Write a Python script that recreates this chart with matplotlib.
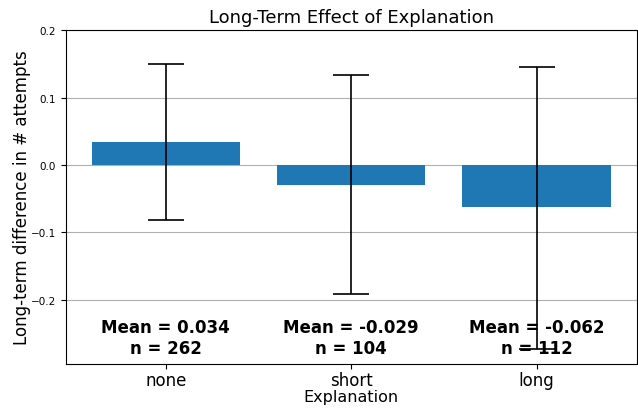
import matplotlib
matplotlib.use("Agg")
import matplotlib.pyplot as plt
import numpy as np

categories = ["none", "short", "long"]
means = [0.034, -0.029, -0.062]
ns = [262, 104, 112]
err_low = [-0.081, -0.191, -0.273]
err_high = [0.150, 0.133, 0.146]

fig, ax = plt.subplots(figsize=(6.38, 4.10), dpi=100)
x = np.arange(len(categories))
yerr = [np.array(means) - np.array(err_low), np.array(err_high) - np.array(means)]
ax.bar(x, means, width=0.8, color="#1f77b4", zorder=2)
ax.errorbar(x, means, yerr=yerr, fmt="none", ecolor="black", elinewidth=1.2,
            capsize=13, capthick=1.2, zorder=3)
ax.set_ylim(-0.295, 0.2)
ax.set_yticks([-0.2, -0.1, 0.0, 0.1, 0.2])
ax.yaxis.grid(True, color="#b0b0b0", linewidth=0.8, zorder=0)
ax.set_axisbelow(True)
ax.set_xticks(x)
ax.set_xticklabels(categories, fontsize=12)
ax.tick_params(axis="x", pad=1.5)
ax.tick_params(axis="y", labelsize=7.5)
for i in range(len(categories)):
    ax.text(x[i], -0.256, "Mean = %.3f\nn = %d" % (means[i], ns[i]), ha="center",
            va="center", fontsize=12, fontweight="bold", zorder=4, linespacing=1.2)
ax.set_title("Long-Term Effect of Explanation", fontsize=13)
ax.set_xlabel("Explanation", fontsize=11.5, labelpad=0)
ax.set_ylabel("Long-term difference in # attempts", fontsize=12, labelpad=0)
fig.subplots_adjust(left=0.103, right=0.998, top=0.924, bottom=0.11)
fig.savefig("out.png", dpi=100)
